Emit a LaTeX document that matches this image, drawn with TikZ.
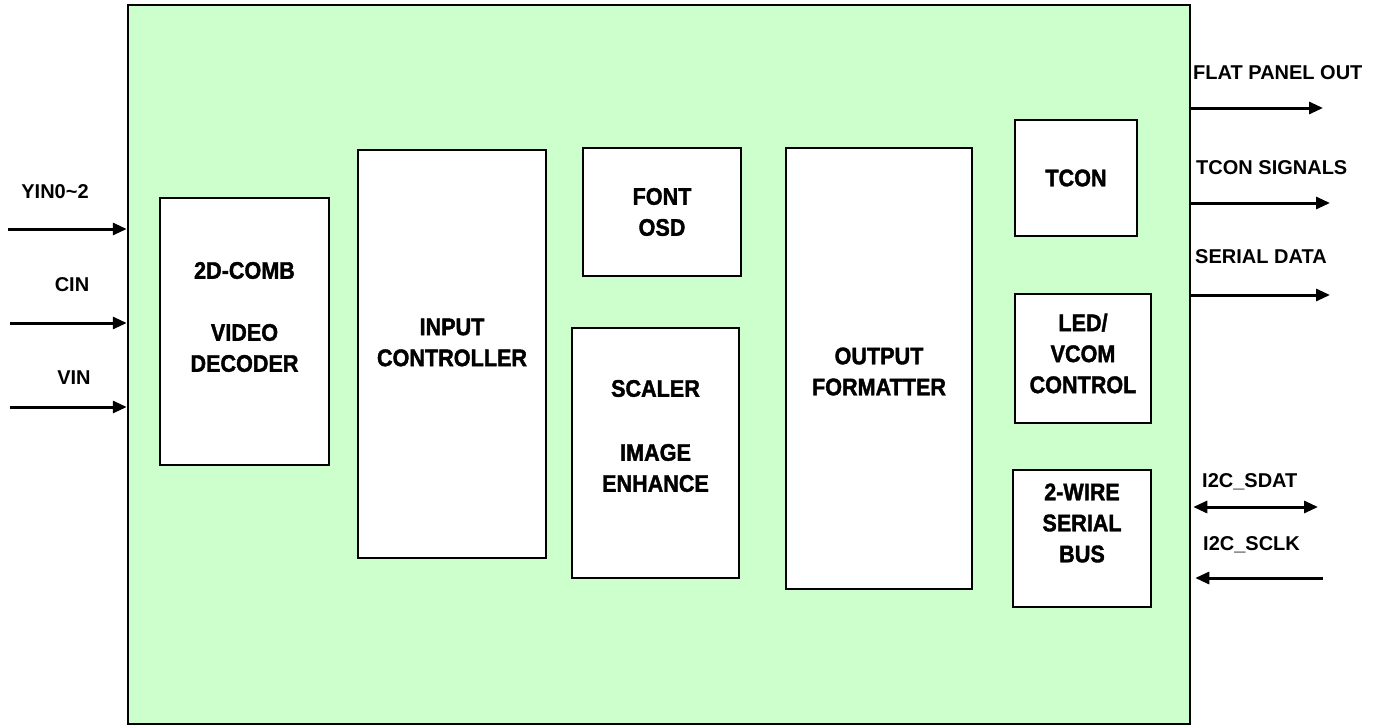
\documentclass[tikz,border=0pt]{standalone}
\usepackage{fontspec}
\setmainfont{Liberation Sans}
\newfontfamily\blockfont{Liberation Sans}[UprightFont=* Bold, FakeStretch=0.9, FakeBold=1.6]
\usepackage{tikz}
\usetikzlibrary{arrows.meta,positioning,calc}
\definecolor{chipGreen}{RGB}{204, 255, 204}
\definecolor{inkBlack}{RGB}{0, 0, 0}

\begin{document}
\begin{tikzpicture}[x=1pt, y=-1pt,
    chip/.style={draw=inkBlack, fill=chipGreen, line width=2.5pt, inner sep=0pt},
    block/.style={draw=inkBlack, fill=white, line width=1.6pt, inner sep=0pt},
    blocktext/.style={align=center, inner sep=0pt, font=\fontsize{24pt}{31pt}\selectfont\blockfont},
    siglabel/.style={inner sep=0pt, font=\fontsize{20pt}{22pt}\selectfont\bfseries},
    sig/.style={draw=inkBlack, line width=3pt, -{Triangle[length=14pt,width=12pt]}}]
    \useasboundingbox (0,0) rectangle (1382,728);

    % chip outline
    \node[chip, minimum width=1062pt, minimum height=719pt] (chip) at (659,364.5) {};

    % blocks
    \node[block, minimum width=169pt, minimum height=267pt] (dec) at (244.5,331.5) {};
    \node[block, minimum width=188pt, minimum height=408pt] (inctl) at (452,354) {};
    \node[block, minimum width=158pt, minimum height=128pt] (osd) at (662,212) {};
    \node[block, minimum width=167pt, minimum height=250pt] (scaler) at (655.5,453) {};
    \node[block, minimum width=186pt, minimum height=441pt] (outfmt) at (879,368.5) {};
    \node[block, minimum width=122pt, minimum height=116pt] (tcon) at (1076,178) {};
    \node[block, minimum width=136pt, minimum height=129pt] (led) at (1083,358.5) {};
    \node[block, minimum width=138pt, minimum height=137pt] (twi) at (1082,538.5) {};

    \node[blocktext] (dec-t) at ([yshift=14.5pt]dec.center) {2D-COMB\\[31pt]VIDEO\\DECODER};
    \node[blocktext] (inctl-t) at ([yshift=11.5pt]inctl.center) {INPUT\\CONTROLLER};
    \node[blocktext] (osd-t) at (osd.center) {FONT\\OSD};
    \node[blocktext] (scaler-t) at ([yshift=17pt]scaler.center) {SCALER\\[33pt]IMAGE\\ENHANCE};
    \node[blocktext] (outfmt-t) at ([yshift=-3pt]outfmt.center) {OUTPUT\\FORMATTER};
    \node[blocktext] (tcon-t) at (tcon.center) {TCON};
    \node[blocktext] (led-t) at ([yshift=5pt]led.center) {LED/\\VCOM\\CONTROL};
    \node[blocktext] (twi-t) at ([yshift=15.5pt]twi.center) {2-WIRE\\SERIAL\\BUS};

    % inputs
    \coordinate (yin) at (8,229);
    \coordinate (cin) at (10,323);
    \coordinate (vin) at (10,407);
    \node[siglabel] (yin-l) at (55,192) {YIN0\char`~2};
    \node[siglabel] (cin-l) at (72,285) {CIN};
    \node[siglabel] (vin-l) at (74,378) {VIN};
    \draw[sig] (yin) -- (yin -| chip.west);
    \draw[sig] (cin) -- (cin -| chip.west);
    \draw[sig] (vin) -- (vin -| chip.west);

    % outputs
    \coordinate (fpo) at (1323,108);
    \coordinate (tsig) at (1330,203);
    \coordinate (sdata) at (1330,295);
    \coordinate (sdat) at (1318,507);
    \coordinate (sclk) at (1323,578);
    \node[siglabel, anchor=west] (fpo-l) at (1193,73) {FLAT PANEL OUT};
    \node[siglabel, anchor=west] (tsig-l) at (1196,168) {TCON SIGNALS};
    \node[siglabel, anchor=west] (sdata-l) at (1195,257) {SERIAL DATA};
    \node[siglabel, anchor=west] (sdat-l) at (1202,482) {I2C\_SDAT};
    \node[siglabel, anchor=west] (sclk-l) at (1203,545) {I2C\_SCLK};
    \draw[sig] (fpo -| chip.east) -- (fpo);
    \draw[sig] (tsig -| chip.east) -- (tsig);
    \draw[sig] (sdata -| chip.east) -- (sdata);
    \draw[sig, {Triangle[length=14pt,width=12pt]}-{Triangle[length=14pt,width=12pt]}] ([xshift=2pt]sdat -| chip.east) -- (sdat);
    \draw[sig] (sclk) -- ([xshift=4pt]sclk -| chip.east);
\end{tikzpicture}
\end{document}
